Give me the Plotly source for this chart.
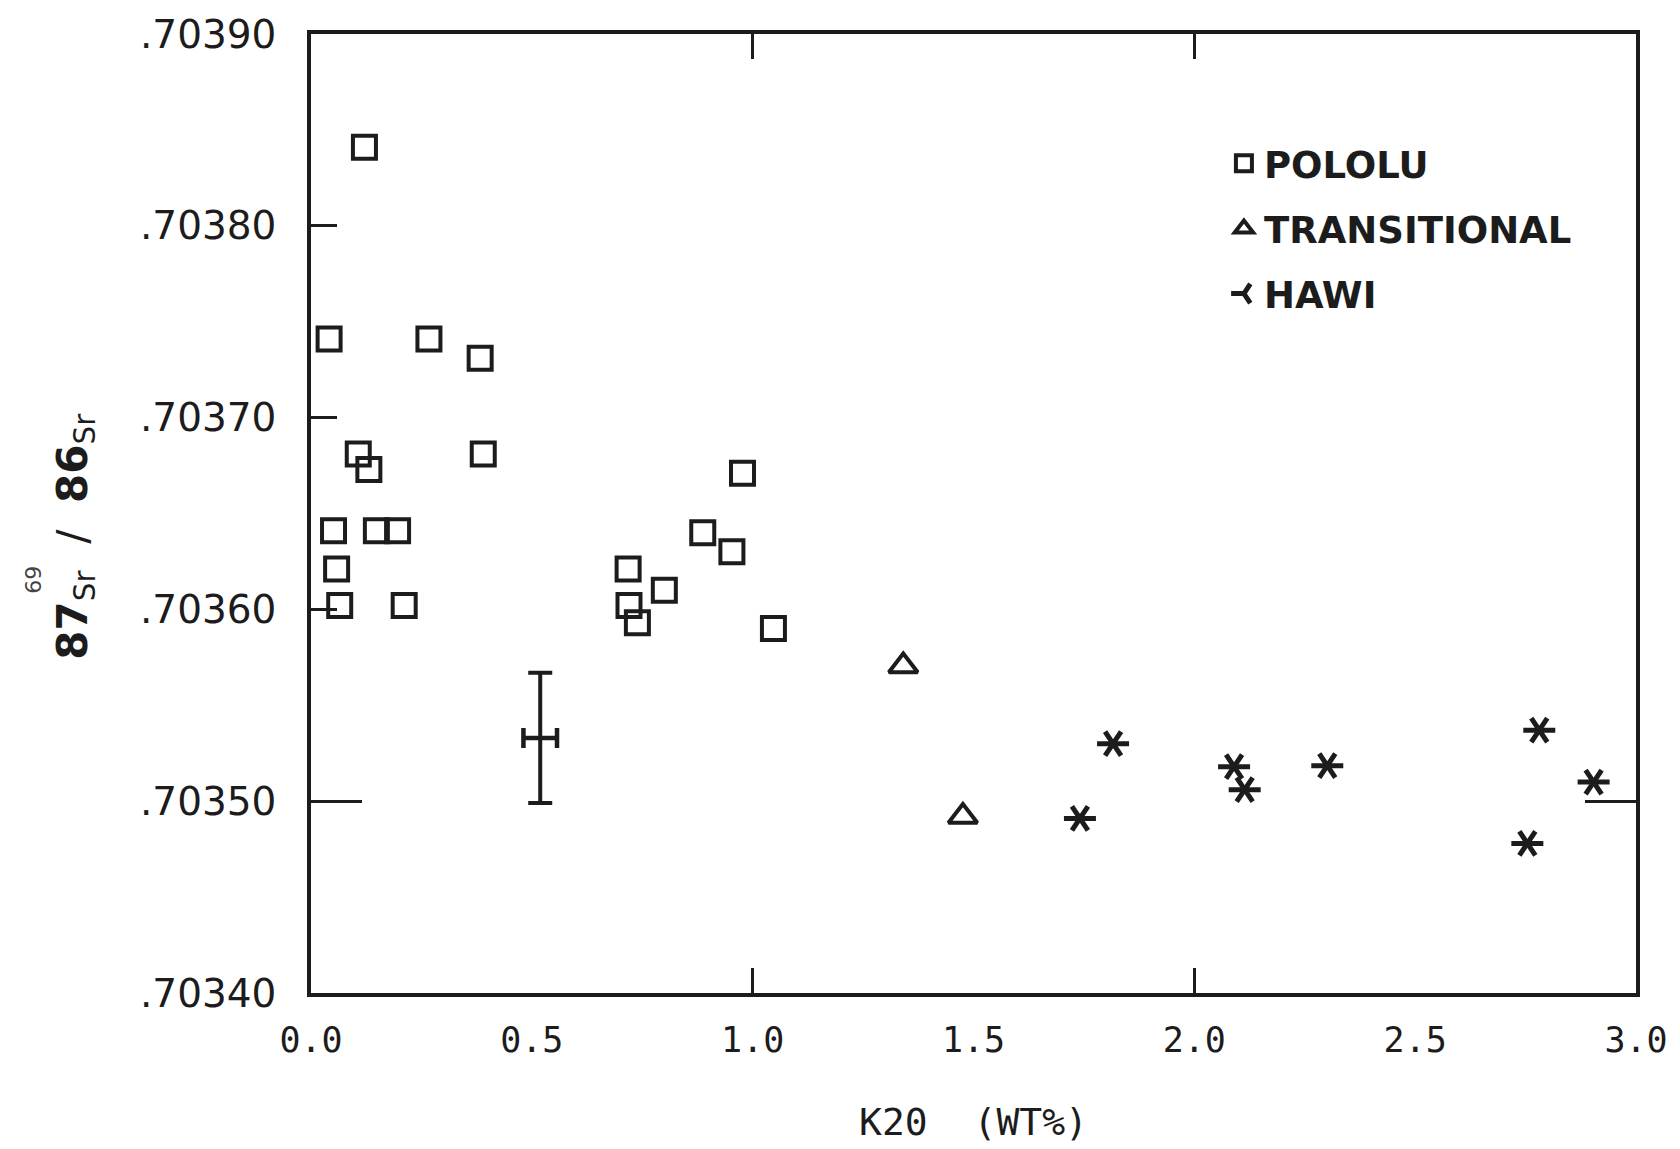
import plotly.graph_objects as go

# ---- data (K2O wt%, 87Sr/86Sr) ----
pololu_k2o = [0.121, 0.041, 0.267, 0.383, 0.107, 0.131, 0.390, 0.051, 0.148, 0.196,
              0.058, 0.065, 0.211, 0.718, 0.720, 0.739, 0.800, 0.887, 0.953, 0.977, 1.047]
pololu_sr = [0.703841, 0.703741, 0.703741, 0.703731, 0.703681, 0.703673, 0.703681, 0.703641,
             0.703641, 0.703641, 0.703621, 0.703602, 0.703602, 0.703621, 0.703602, 0.703593,
             0.703610, 0.703640, 0.703630, 0.703671, 0.703590]

trans_k2o = [1.341, 1.476]
trans_sr = [0.7035705, 0.703492]

hawi_k2o = [1.816, 1.741, 2.090, 2.114, 2.301, 2.781, 2.754, 2.904]
hawi_sr = [0.703530, 0.703491, 0.703518, 0.703506, 0.7035185, 0.703537, 0.703478, 0.703510]

err_k2o = [0.519]
err_sr = [0.703533]
err_sr_size = [0.000034]
err_k2o_size = [0.038]

x_ticks = [0.0, 0.5, 1.0, 1.5, 2.0, 2.5, 3.0]
x_ticktext = ["0.0", "0.5", "1.0", "1.5", "2.0", "2.5", "3.0"]
y_ticks = [0.7034, 0.7035, 0.7036, 0.7037, 0.7038, 0.7039]
y_ticktext = [".70340", ".70350", ".70360", ".70370", ".70380", ".70390"]

INK = "#1c1c1c"

fig = go.Figure()

fig.add_trace(go.Scatter(
    x=pololu_k2o, y=pololu_sr, mode="markers", name="POLOLU", legendgroup="a",
    marker=dict(symbol="square-open", size=23, color=INK, line=dict(width=4, color=INK)),
))
fig.add_trace(go.Scatter(
    x=trans_k2o, y=trans_sr, mode="markers", name="TRANSITIONAL", legendgroup="b",
    marker=dict(symbol="triangle-up-open", size=25, color=INK, line=dict(width=4, color=INK)),
))
fig.add_trace(go.Scatter(
    x=hawi_k2o, y=hawi_sr, mode="markers", name="HAWI", legendgroup="c",
    marker=dict(symbol="y-left-open", size=20, color=INK, line=dict(width=5, color=INK)),
))
fig.add_trace(go.Scatter(
    x=hawi_k2o, y=hawi_sr, mode="markers", name="HAWI", legendgroup="c", showlegend=False,
    marker=dict(symbol="y-right-open", size=20, color=INK, line=dict(width=5, color=INK)),
))

# analytical uncertainty bar
fig.add_trace(go.Scatter(
    x=err_k2o, y=err_sr, mode="markers", showlegend=False, xaxis="x2", yaxis="y2",
    marker=dict(size=1, color="rgba(0,0,0,0)"),
    error_y=dict(type="data", array=err_sr_size, visible=True, color=INK, thickness=4, width=12),
    error_x=dict(type="data", array=err_k2o_size, visible=True, color=INK, thickness=4.5, width=10),
))

fig.update_layout(
    width=1680, height=1149,
    margin=dict(l=311, r=44, t=29, b=153),
    paper_bgcolor="white", plot_bgcolor="white",
    showlegend=True,
    legend=dict(
        x=0.689, y=0.897, xanchor="left", yanchor="top",
        font=dict(family="DejaVu Sans", size=37, color=INK, weight="bold"),
        bgcolor="rgba(0,0,0,0)", traceorder="grouped", tracegroupgap=14,
        itemwidth=30,
    ),
    xaxis=dict(
        range=[0, 3], showgrid=False, zeroline=False,
        showline=True, linewidth=3.5, linecolor=INK, mirror=True,
        tickvals=x_ticks, ticktext=x_ticktext, ticks="",
        tickfont=dict(family="DejaVu Sans Mono", size=35, color=INK),
        ticklabelstandoff=13,
        title=dict(text="K20  (WT%)", standoff=51,
                   font=dict(family="DejaVu Sans Mono", size=38, color=INK)),
    ),
    xaxis2=dict(
        range=[0, 3], overlaying="x", anchor="y", showgrid=False, zeroline=False,
        showline=False, tickvals=[1.0, 2.0], ticks="inside", ticklen=25, tickwidth=2.5,
        tickcolor=INK, mirror="ticks", showticklabels=False,
    ),
    yaxis=dict(
        range=[0.7034, 0.7039], showgrid=False, zeroline=False,
        showline=True, linewidth=3.5, linecolor=INK, mirror=True,
        tickvals=y_ticks, ticktext=y_ticktext, ticks="inside", ticklen=26, tickwidth=2.5,
        tickcolor=INK,
        tickfont=dict(family="DejaVu Sans", size=39, color=INK),
        ticklabelstandoff=23,
    ),
    yaxis2=dict(
        range=[0.7034, 0.7039], overlaying="y", anchor="x", showgrid=False, zeroline=False,
        showline=False, tickvals=[0.7035], ticks="inside", ticklen=51, tickwidth=2.5,
        tickcolor=INK, mirror="ticks", showticklabels=False,
    ),
    annotations=[
        dict(text="<b>87</b><sub>Sr</sub>  /  <b>86</b><sub>Sr</sub>", xref="paper", yref="paper",
             x=-0.178, y=0.476, textangle=-90, showarrow=False, xanchor="center", yanchor="middle",
             font=dict(family="DejaVu Sans", size=42, color=INK)),
        dict(text="69", xref="paper", yref="paper", x=-0.2106, y=0.431, textangle=90,
             showarrow=False, xanchor="center", yanchor="middle",
             font=dict(family="DejaVu Sans", size=22, color="#444")),
    ],
)

fig.write_html("out.html")
